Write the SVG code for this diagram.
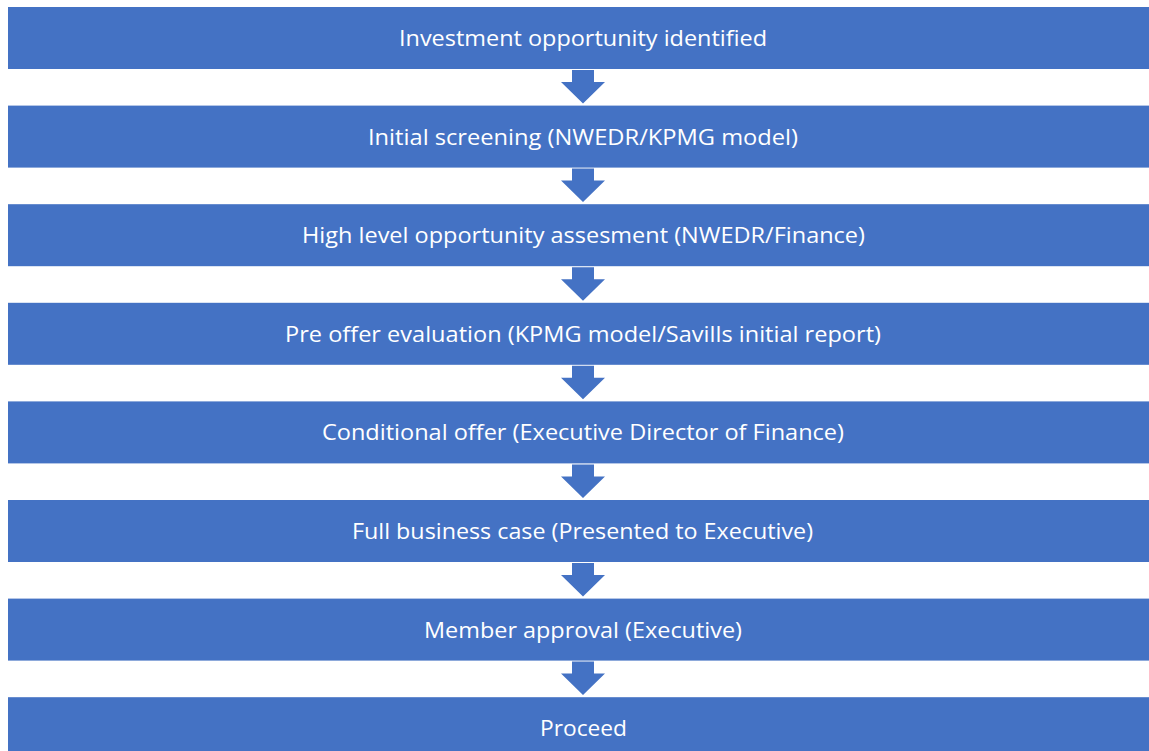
<svg xmlns="http://www.w3.org/2000/svg" width="1149" height="751" viewBox="0 0 1149 751">
<defs>
<style>
.box{fill:#4472C4;}
.lbl{fill:#ffffff;font-family:"Open Sans","Liberation Sans",sans-serif;font-size:21px;text-anchor:middle;}
.arr{fill:#4472C4;}
</style>
<polygon id="arrowShape" points="572,0 594,0 594,12 605,12 583,33.5 561,12 572,12"/>
</defs>
<rect width="1149" height="751" fill="#ffffff"/>
<g id="connectors">
<use href="#arrowShape" class="arr" y="70"/>
<use href="#arrowShape" class="arr" y="168.6"/>
<use href="#arrowShape" class="arr" y="267.2"/>
<use href="#arrowShape" class="arr" y="365.8"/>
<use href="#arrowShape" class="arr" y="464.4"/>
<use href="#arrowShape" class="arr" y="563"/>
<use href="#arrowShape" class="arr" y="661.6"/>
</g>
<g id="n1"><rect class="box" x="8" y="7" width="1141" height="62"/><text class="lbl" x="583" y="46" textLength="368" lengthAdjust="spacingAndGlyphs">Investment opportunity identified</text></g>
<g id="n2"><rect class="box" x="8" y="105.6" width="1141" height="62"/><text class="lbl" x="583" y="144.6" textLength="430" lengthAdjust="spacingAndGlyphs">Initial screening (NWEDR/KPMG model)</text></g>
<g id="n3"><rect class="box" x="8" y="204.2" width="1141" height="62"/><text class="lbl" x="583.5" y="243.2" textLength="563" lengthAdjust="spacingAndGlyphs">High level opportunity assesment (NWEDR/Finance)</text></g>
<g id="n4"><rect class="box" x="8" y="302.8" width="1141" height="62"/><text class="lbl" x="583" y="341.8" textLength="596" lengthAdjust="spacingAndGlyphs">Pre offer evaluation (KPMG model/Savills initial report)</text></g>
<g id="n5"><rect class="box" x="8" y="401.4" width="1141" height="62"/><text class="lbl" x="583" y="440.4" textLength="522" lengthAdjust="spacingAndGlyphs">Conditional offer (Executive Director of Finance)</text></g>
<g id="n6"><rect class="box" x="8" y="500" width="1141" height="62"/><text class="lbl" x="582.5" y="539" textLength="461" lengthAdjust="spacingAndGlyphs">Full business case (Presented to Executive)</text></g>
<g id="n7"><rect class="box" x="8" y="598.6" width="1141" height="62"/><text class="lbl" x="583" y="637.6" textLength="318" lengthAdjust="spacingAndGlyphs">Member approval (Executive)</text></g>
<g id="n8"><rect class="box" x="8" y="697.2" width="1141" height="62"/><text class="lbl" x="583.5" y="736.2" textLength="87" lengthAdjust="spacingAndGlyphs">Proceed</text></g>
</svg>
